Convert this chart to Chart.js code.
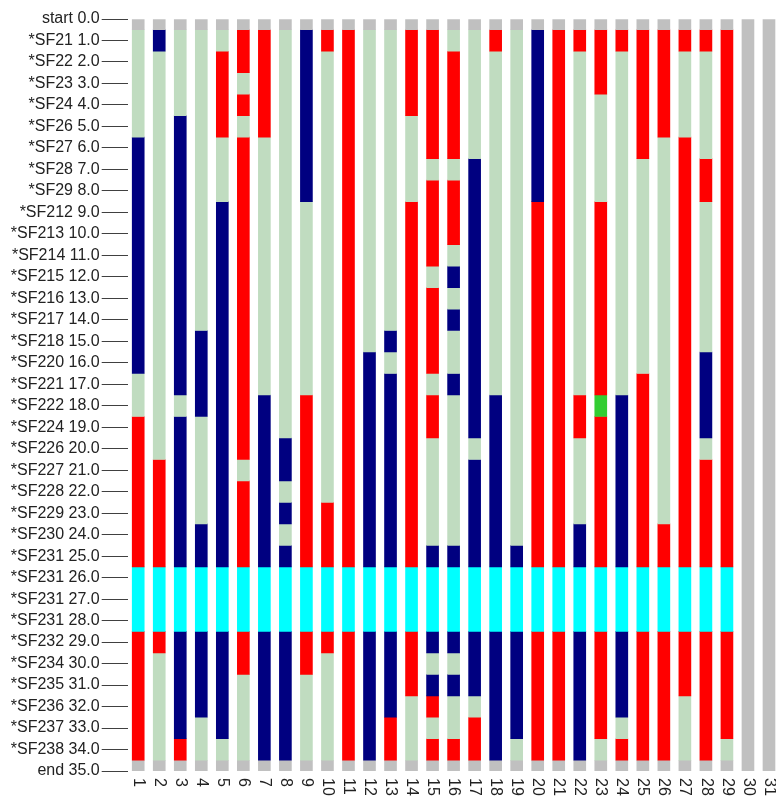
<!DOCTYPE html>
<html>
<head>
<meta charset="utf-8">
<script src="https://cdn.jsdelivr.net/npm/chart.js@4.4.1/dist/chart.umd.min.js"></script>
<style>
  html, body { margin: 0; padding: 0; background: #ffffff; overflow: hidden; }
  canvas { display: block; }
</style>
</head>
<body>
<canvas id="chart" width="790" height="798"></canvas>
<script>
// Row labels on the vertical axis (row index = value)
const rowLabels = [
  'start 0.0', '*SF21 1.0', '*SF22 2.0', '*SF23 3.0', '*SF24 4.0', '*SF26 5.0',
  '*SF27 6.0', '*SF28 7.0', '*SF29 8.0', '*SF212 9.0', '*SF213 10.0', '*SF214 11.0',
  '*SF215 12.0', '*SF216 13.0', '*SF217 14.0', '*SF218 15.0', '*SF220 16.0', '*SF221 17.0',
  '*SF222 18.0', '*SF224 19.0', '*SF226 20.0', '*SF227 21.0', '*SF228 22.0', '*SF229 23.0',
  '*SF230 24.0', '*SF231 25.0', '*SF231 26.0', '*SF231 27.0', '*SF231 28.0', '*SF232 29.0',
  '*SF234 30.0', '*SF235 31.0', '*SF236 32.0', '*SF237 33.0', '*SF238 34.0', 'end 35.0'
];

// Column categories along the bottom
const columnLabels = [
  '1', '2', '3', '4', '5', '6', '7', '8', '9', '10', '11', '12', '13', '14', '15', '16',
  '17', '18', '19', '20', '21', '22', '23', '24', '25', '26', '27', '28', '29', '30', '31'
];

// Per-column states for rows 1..34, written as runs "<state><count>"
// G = green, R = red, B = navy, C = cyan, L = lime, S = silver
const columnRuns = [
  'G5 B11 G2 R7 C3 R6',
  'B1 G19 R5 C3 R1 G5',
  'G4 B13 G1 B7 C3 B5 R1',
  'G14 B4 G5 B2 C3 B4 G2',
  'G1 R4 G3 B17 C3 B5 G1',
  'R2 G1 R1 G1 R15 G1 R4 C3 R2 G4',
  'R5 G12 B8 C3 B6',
  'G19 B2 G1 B1 G1 B1 C3 B6',
  'B8 G9 R8 C3 R2 G4',
  'R1 G21 R3 C3 R1 G5',
  'R25 C3 R6',
  'G15 B10 C3 B6',
  'G14 B1 G1 B9 C3 B4 R2',
  'R4 G4 R17 C3 R3 G3',
  'R6 G1 R4 G1 R4 G1 R2 G5 B1 C3 B1 G1 B1 R1 G1 R1',
  'G1 R5 G1 R3 G1 B1 G1 B1 G2 B1 G7 B1 C3 B1 G1 B1 G2 R1',
  'G6 B13 G1 B5 C3 B3 G1 R2',
  'R1 G16 B8 C3 B6',
  'G24 B1 C3 B5 G1',
  'B8 R17 C3 R6',
  'R25 C3 R6',
  'R1 G16 R2 G4 B2 C3 B6',
  'R3 G5 R9 L1 R7 C3 R5 G1',
  'R1 G16 B8 C3 B4 G1 R1',
  'R6 G10 R9 C3 R6',
  'R5 G18 R2 C3 R6',
  'R1 G4 R20 C3 R3 G3',
  'R1 G5 R2 G7 B4 G1 R5 C3 R6',
  'R25 C3 R5 G1',
  'S34',
  'S34'
];

const stateColors = {
  G: '#c0dcc0',
  R: '#ff0000',
  B: '#000080',
  C: '#00ffff',
  L: '#32cd32',
  S: '#c0c0c0'
};

const Y_MIN = 0;
const Y_MAX = rowLabels.length - 1;

// Expand a run string into one state per row, with the silver start/end rows
function expandColumn(spec) {
  const states = ['S'];
  spec.trim().split(/\s+/).forEach(tok => {
    const s = tok[0];
    const n = parseInt(tok.slice(1), 10);
    for (let i = 0; i < n; i++) states.push(s);
  });
  states.push('S');
  return states;
}

// Merge consecutive equal states into segments [fromRow, toRow]
function segmentsOf(states) {
  const segs = [];
  let start = 0;
  for (let r = 1; r <= states.length; r++) {
    if (r === states.length || states[r] !== states[start]) {
      segs.push({ from: start, to: r - 1, state: states[start] });
      start = r;
    }
  }
  return segs;
}

const columnSegments = columnRuns.map(spec => segmentsOf(expandColumn(spec)));

// One dataset per starting row; each column contributes a floating bar
// when one of its segments begins on that row.
const datasets = rowLabels.map((_, r) => {
  const data = [];
  const colors = [];
  columnSegments.forEach(segs => {
    const seg = segs.find(s => s.from === r);
    if (seg) {
      data.push([Math.max(Y_MIN, seg.from - 0.5), Math.min(Y_MAX, seg.to + 0.5)]);
      colors.push(stateColors[seg.state]);
    } else {
      data.push(null);
      colors.push('rgba(0,0,0,0)');
    }
  });
  return { label: rowLabels[r], data, backgroundColor: colors };
});

const FONT_FAMILY = '"Liberation Sans", Arial, Helvetica, sans-serif';

// Vertical (top-to-bottom) category labels under each column
const verticalXLabels = {
  id: 'verticalXLabels',
  afterDraw(chart) {
    const { ctx, chartArea } = chart;
    const xScale = chart.scales.x;
    ctx.save();
    ctx.font = '16px ' + FONT_FAMILY;
    ctx.fillStyle = '#222222';
    ctx.textAlign = 'left';
    ctx.textBaseline = 'middle';
    xScale.ticks.forEach((t, i) => {
      const px = xScale.getPixelForTick(i);
      ctx.save();
      ctx.translate(px, chartArea.bottom + 7);
      ctx.rotate(Math.PI / 2);
      ctx.fillText(chart.data.labels[i], 0, 0);
      ctx.restore();
    });
    ctx.restore();
  }
};

new Chart(document.getElementById('chart'), {
  type: 'bar',
  data: { labels: columnLabels, datasets },
  options: {
    responsive: false,
    animation: false,
    events: [],
    layout: { padding: { top: 19, right: 10.5, bottom: 0, left: 0 } },
    plugins: {
      legend: { display: false },
      tooltip: { enabled: false }
    },
    datasets: {
      bar: { grouped: false, barThickness: 12, borderWidth: 0 }
    },
    scales: {
      x: {
        offset: true,
        grid: { display: false },
        border: { display: false },
        ticks: { display: false },
        afterFit(scale) { scale.height = 27; }
      },
      y: {
        type: 'linear',
        reverse: true,
        min: Y_MIN,
        max: Y_MAX,
        border: { display: false },
        grid: {
          drawOnChartArea: false,
          drawTicks: true,
          tickLength: 26,
          color: '#404040',
          lineWidth: 1
        },
        ticks: {
          stepSize: 1,
          autoSkip: false,
          maxTicksLimit: 40,
          padding: 2,
          color: '#222222',
          font: { family: FONT_FAMILY, size: 16 },
          callback: v => rowLabels[v]
        },
        afterFit(scale) { scale.width = 127.7; }
      }
    }
  },
  plugins: [verticalXLabels]
});
</script>
</body>
</html>
